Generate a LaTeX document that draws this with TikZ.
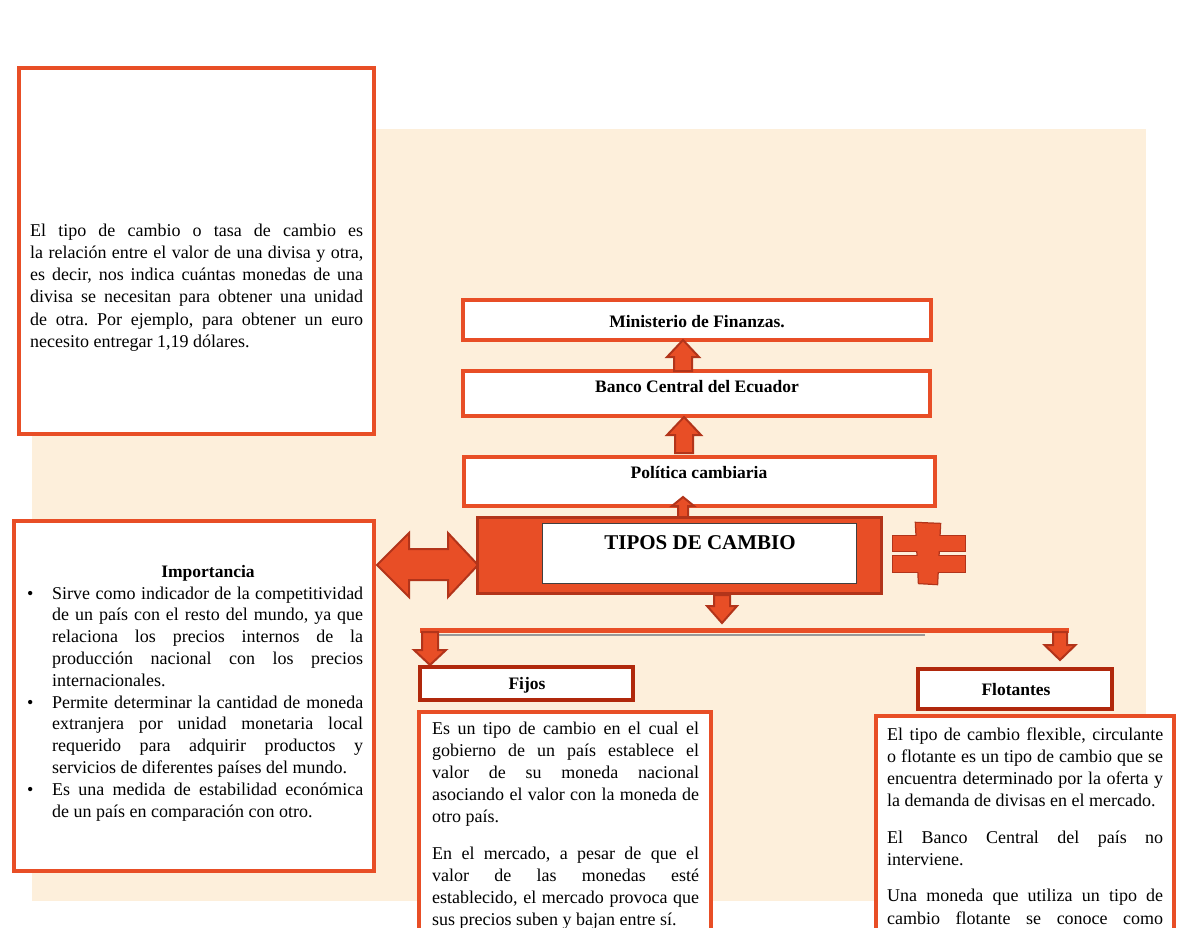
\documentclass[tikz,border=0pt]{standalone}
\usepackage{fontspec}
\setmainfont{Liberation Serif}
\definecolor{orng}{RGB}{232,78,38}
\definecolor{arrb}{RGB}{178,52,26}
\definecolor{dred}{RGB}{176,40,12}
\definecolor{peach}{RGB}{253,239,219}
\newcommand\arrowup[6]{% cx, tip y, base y, head half width, shaft half width, head length
  \draw[blockarr] (#1,#2) -- ({#1+#4},{#2+#6}) -- ({#1+#5},{#2+#6}) -- ({#1+#5},#3)
    -- ({#1-#5},#3) -- ({#1-#5},{#2+#6}) -- ({#1-#4},{#2+#6}) -- cycle;}
\newcommand\arrowdown[6]{% cx, tip y, base y, head half width, shaft half width, head length
  \draw[blockarr] (#1,#2) -- ({#1+#4},{#2-#6}) -- ({#1+#5},{#2-#6}) -- ({#1+#5},#3)
    -- ({#1-#5},#3) -- ({#1-#5},{#2-#6}) -- ({#1-#4},{#2-#6}) -- cycle;}
\newcommand\bulletitem{\leavevmode\llap{\makebox[25pt][l]{\textbullet}}}
\tikzset{
  obox/.style={draw=orng, line width=4pt, fill=white},
  rbox/.style={draw=dred, line width=4pt, fill=white},
  blockarr/.style={fill=orng, draw=arrb, line width=2pt, line join=miter},
  bodytxt/.style={inner sep=0pt, anchor=base west, align=justify,
     font=\fontsize{18}{22.3}\selectfont\frenchspacing},
  titletxt/.style={inner sep=0pt, anchor=base, font=\fontsize{17.5}{21}\selectfont\bfseries},
}
\begin{document}
\begin{tikzpicture}[x=1pt,y=-1pt]
\useasboundingbox (0,0) rectangle (1200,927);
\fill[white] (0,0) rectangle (1200,927);
\fill[peach] (32,129) rectangle (1146,901);

% definition box
\draw[obox] (19,68) rectangle (374,434);
\node[bodytxt, text width=333pt] (deftxt) at (30,236) {\hyphenpenalty=10000 \tolerance=10000
El tipo de cambio o tasa de cambio es\linebreak
la relación entre el valor de una divisa y otra,\linebreak
es decir, nos indica cuántas monedas de una\linebreak
divisa se necesitan para obtener una unidad\linebreak
de otra. Por ejemplo, para obtener un euro\linebreak
necesito entregar 1,19 dólares.};

% importancia box
\draw[obox] (14,520.5) rectangle (374,870.5);
\node[titletxt] (imptit) at (208,577) {Importancia};
\node[bodytxt, text width=311pt, font=\fontsize{18}{21.8}\selectfont\frenchspacing] (implist) at (52,599) {\hyphenpenalty=10000 \tolerance=10000
\bulletitem Sirve como indicador de la competitividad\linebreak
de un país con el resto del mundo, ya que\linebreak
relaciona los precios internos de la\linebreak
producción nacional con los precios\linebreak
internacionales.\par
\bulletitem Permite determinar la cantidad de moneda\linebreak
extranjera por unidad monetaria local\linebreak
requerido para adquirir productos y\linebreak
servicios de diferentes países del mundo.\par
\bulletitem Es una medida de estabilidad económica\linebreak
de un país en comparación con otro.};

% top chain
\draw[obox] (463,300) rectangle (931,340);
\node[titletxt] (minis) at (697,327) {Ministerio de Finanzas.};
\draw[obox] (463,371) rectangle (930,416);
\node[titletxt] (banco) at (697,392) {Banco Central del Ecuador};
\draw[obox] (464,457) rectangle (935,506);
\node[titletxt] (polit) at (699,478) {Política cambiaria};

\arrowup{683}{340}{371}{16}{9}{17}
\arrowup{684}{417}{453}{17}{9}{18}
\arrowup{683}{497}{518}{11}{5}{9}

% double arrow
\draw[blockarr] (377,565) -- (409,533) -- (409,549) -- (448,549) -- (448,533) -- (478,565)
  -- (448,597) -- (448,580) -- (409,580) -- (409,597) -- cycle;

% main box
\draw[fill=orng, draw=arrb, line width=3pt] (477,517) rectangle (881,593);
\draw[fill=white, draw=black!75, line width=1pt] (542,523) rectangle (856,583);
\node[inner sep=0pt, anchor=base, font=\fontsize{21}{24}\selectfont\bfseries] (tipos) at (700,549) {TIPOS DE CAMBIO};

% not-equal sign
\draw[arrb, line width=2.5pt, line join=miter] (893,536) rectangle (965,551);
\draw[arrb, line width=2.5pt, line join=miter] (893,556) rectangle (965,572);
\draw[arrb, line width=2.5pt, line join=miter] (916,523) -- (940,524) -- (937,584) -- (919,583) -- cycle;
\fill[orng] (893,536) rectangle (965,551);
\fill[orng] (893,556) rectangle (965,572);
\fill[orng] (916,523) -- (940,524) -- (937,584) -- (919,583) -- cycle;

% branches
\arrowdown{722}{623}{595}{15}{8}{17}
\coordinate (bl) at (420,630);
\coordinate (br) at (1069,630);
\draw[black!40, line width=2pt] (422,634.5) -- (925,634.5);
\draw[orng, line width=5pt] (bl) -- (br);
\arrowdown{430}{665}{632}{16}{8}{15}
\arrowdown{1060}{660}{632}{15.5}{7}{15}

% Fijos
\draw[rbox] (420,667) rectangle (633,700);
\node[titletxt] (fijos) at (527,689) {Fijos};
\draw[obox] (418.5,711.5) rectangle (710.5,1000);
\node[bodytxt, text width=267pt, font=\fontsize{18}{22.2}\selectfont\frenchspacing] (fijtxt) at (432,734) {\hyphenpenalty=10000 \tolerance=10000 \setlength\parskip{14pt}%
Es un tipo de cambio en el cual el\linebreak
gobierno de un país establece el\linebreak
valor de su moneda nacional\linebreak
asociando el valor con la moneda de\linebreak
otro país.\par
En el mercado, a pesar de que el\linebreak
valor de las monedas esté\linebreak
establecido, el mercado provoca que\linebreak
sus precios suben y bajan entre sí.};

% Flotantes
\draw[rbox] (918,669) rectangle (1112,709);
\node[titletxt] (flot) at (1016,695) {Flotantes};
\draw[obox] (876,716) rectangle (1174,1000);
\node[bodytxt, text width=276pt, font=\fontsize{18}{22.3}\selectfont\frenchspacing] (flottxt) at (887,740) {\hyphenpenalty=10000 \tolerance=10000 \setlength\parskip{14pt}%
El tipo de cambio flexible, circulante\linebreak
o flotante es un tipo de cambio que se\linebreak
encuentra determinado por la oferta y\linebreak
la demanda de divisas en el mercado.\par
El Banco Central del país no\linebreak
interviene.\par
Una moneda que utiliza un tipo de\linebreak
cambio flotante se conoce como{\parfillskip=0pt\par}};
\end{tikzpicture}
\end{document}
